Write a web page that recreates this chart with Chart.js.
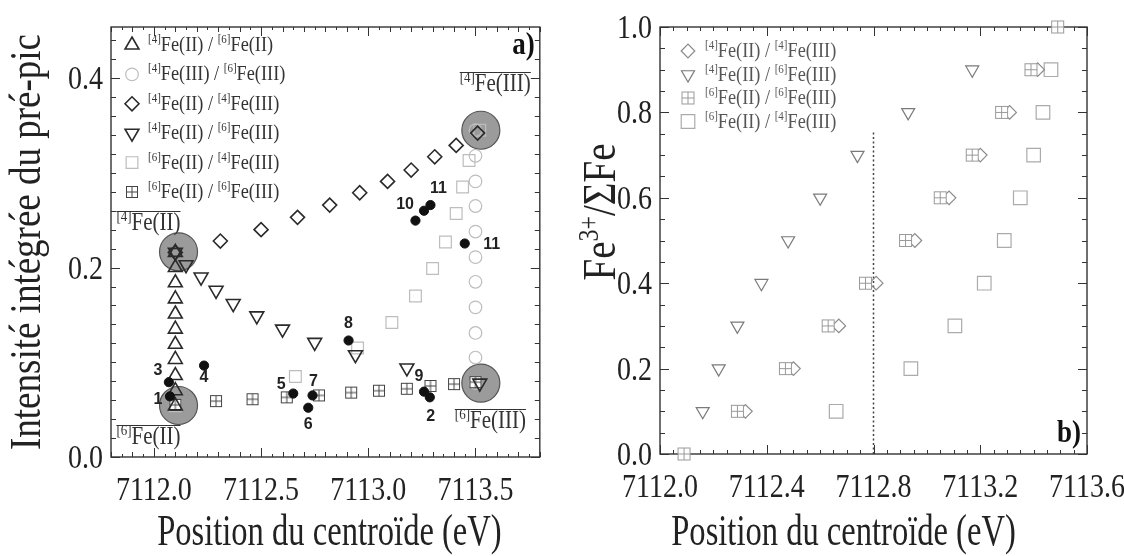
<!DOCTYPE html>
<html>
<head>
<meta charset="utf-8">
<script src="https://cdn.jsdelivr.net/npm/chart.js@4.4.0/dist/chart.umd.min.js"></script>
<style>
  html, body { margin: 0; padding: 0; background: #fff; }
  #wrap { position: relative; width: 1124px; height: 556px; overflow: hidden; background: #fff; }
  #chartA { position: absolute; left: 0; top: 0; }
  #chartB { position: absolute; left: 560px; top: 0; }
</style>
</head>
<body>
<div id="wrap">
  <canvas id="chartA" width="560" height="556"></canvas>
  <canvas id="chartB" width="564" height="556"></canvas>
</div>
<script>
// ---------- a) intensité intégrée vs position du centroïde ----------
const triUpX  = [7112.10, 7112.10, 7112.10, 7112.10, 7112.10, 7112.10, 7112.10, 7112.10, 7112.10, 7112.10, 7112.10];
const triUpY  = [0.054, 0.070, 0.086, 0.103, 0.119, 0.135, 0.151, 0.167, 0.184, 0.200, 0.216];
const openCX  = [7113.50, 7113.50, 7113.50, 7113.50, 7113.50, 7113.50, 7113.50, 7113.50, 7113.50, 7113.50, 7113.50];
const openCY  = [0.078, 0.105, 0.131, 0.158, 0.185, 0.211, 0.238, 0.265, 0.291, 0.318, 0.345];
const diaAX   = [7112.10, 7112.31, 7112.50, 7112.67, 7112.82, 7112.96, 7113.09, 7113.20, 7113.31, 7113.41, 7113.51];
const diaAY   = [0.216, 0.228, 0.240, 0.253, 0.266, 0.279, 0.291, 0.303, 0.317, 0.329, 0.342];
const invAX   = [7112.10, 7112.15, 7112.22, 7112.29, 7112.37, 7112.48, 7112.60, 7112.75, 7112.94, 7113.18, 7113.52];
const invAY   = [0.216, 0.203, 0.190, 0.176, 0.162, 0.149, 0.135, 0.121, 0.108, 0.094, 0.078];
const sqAX    = [7112.10, 7112.66, 7112.95, 7113.11, 7113.22, 7113.30, 7113.36, 7113.41, 7113.44, 7113.47, 7113.52];
const sqAY    = [0.054, 0.085, 0.115, 0.142, 0.170, 0.199, 0.227, 0.257, 0.285, 0.313, 0.345];
const gridAX  = [7112.10, 7112.29, 7112.46, 7112.62, 7112.77, 7112.92, 7113.05, 7113.18, 7113.29, 7113.40, 7113.50];
const gridAY  = [0.055, 0.059, 0.061, 0.063, 0.065, 0.068, 0.070, 0.072, 0.075, 0.077, 0.079];
// pôles purs (grands disques gris)
const endX    = [7112.115, 7112.115, 7113.525, 7113.525];
const endY    = [0.2166, 0.0544, 0.345, 0.078];
const endText = ['[4]Fe(II)', '[6]Fe(II)', '[4]Fe(III)', '[6]Fe(III)'];
// échantillons (points noirs)
const sampleX     = [7112.075, 7113.287, 7112.07, 7112.234, 7112.65, 7112.72, 7112.74, 7112.908, 7113.26, 7113.22, 7113.26, 7113.29, 7113.45];
const sampleY     = [0.064, 0.063, 0.079, 0.0965, 0.067, 0.052, 0.065, 0.123, 0.069, 0.2496, 0.260, 0.266, 0.2254];
const sampleLabel = ['1', '2', '3', '4', '5', '6', '7', '8', '9', '', '10', '11', '11'];
const xTicksA = [7112.0, 7112.5, 7113.0, 7113.5];
const yTicksA = [0.0, 0.2, 0.4];
const legendA = ['[4]Fe(II) / [6]Fe(II)', '[4]Fe(III) / [6]Fe(III)', '[4]Fe(II) / [4]Fe(III)',
                 '[4]Fe(II) / [6]Fe(III)', '[6]Fe(II) / [4]Fe(III)', '[6]Fe(II) / [6]Fe(III)'];

// ---------- b) Fe3+/ΣFe vs position du centroïde ----------
const invBX  = [7112.16, 7112.22, 7112.29, 7112.38, 7112.48, 7112.60, 7112.74, 7112.93, 7113.17];
const invBY  = [0.1, 0.2, 0.3, 0.4, 0.5, 0.6, 0.7, 0.8, 0.9];
const gridBX = [7112.09, 7112.29, 7112.47, 7112.63, 7112.77, 7112.92, 7113.05, 7113.17, 7113.28, 7113.39, 7113.49];
const gridBY = [0.0, 0.1, 0.2, 0.3, 0.4, 0.5, 0.6, 0.7, 0.8, 0.9, 1.0];
const diaBX  = [7112.32, 7112.50, 7112.67, 7112.81, 7112.955, 7113.083, 7113.20, 7113.31, 7113.415];
const diaBY  = [0.1, 0.2, 0.3, 0.4, 0.5, 0.6, 0.7, 0.8, 0.9];
const sqBX   = [7112.66, 7112.94, 7113.105, 7113.215, 7113.29, 7113.35, 7113.40, 7113.435, 7113.465];
const sqBY   = [0.1, 0.2, 0.3, 0.4, 0.5, 0.6, 0.7, 0.8, 0.9];
const dividerX = 7112.8;
const dividerTop = 0.755;
const xTicksB = [7112.0, 7112.4, 7112.8, 7113.2, 7113.6];
const yTicksB = [0.0, 0.2, 0.4, 0.6, 0.8, 1.0];
const legendB = ['[4]Fe(II) / [4]Fe(III)', '[4]Fe(II) / [6]Fe(III)', '[6]Fe(II) / [6]Fe(III)', '[6]Fe(II) / [4]Fe(III)'];

// ---------- styles ----------
const SERIF = '"Liberation Serif", "Times New Roman", serif';
const SANS = '"Liberation Sans", Arial, sans-serif';
const STRETCH = 1.2;          // police un peu plus haute que Times
const AXIS = '#333';
const TEXT = '#222';

function pts(xs, ys) { return xs.map((x, i) => ({ x: x, y: ys[i] })); }

function gridMark(size, color, lw) {
  const c = document.createElement('canvas');
  c.width = size + 2; c.height = size + 2;
  const g = c.getContext('2d');
  g.fillStyle = '#fff';
  g.fillRect(1, 1, size, size);
  g.strokeStyle = color; g.lineWidth = lw;
  g.strokeRect(1.5, 1.5, size - 1, size - 1);
  g.beginPath();
  g.moveTo(1 + size / 2, 1); g.lineTo(1 + size / 2, 1 + size);
  g.moveTo(1, 1 + size / 2); g.lineTo(1 + size, 1 + size / 2);
  g.stroke();
  return c;
}

function mk(xs, ys, s) {
  return {
    data: pts(xs, ys),
    pointStyle: s.style, pointRadius: s.r, pointHoverRadius: s.r,
    pointRotation: s.rot || 0,
    pointBackgroundColor: s.fill, pointBorderColor: s.stroke,
    pointBorderWidth: s.w, pointHoverBorderWidth: s.w,
    showLine: false, clip: false, order: s.order || 0
  };
}

// split "[4]Fe(II)" into [[ '[4]', true ], [ 'Fe(II)', false ]]
function parts(str) {
  return str.split(/(\[\d\])/).filter(t => t).map(t => [t, /^\[\d\]$/.test(t)]);
}

function drawRich(ctx, ps, x, y, size, align, color, angle, xs) {
  const sup = Math.round(size * 0.62);
  const k = xs || 1;
  let w = 0;
  const ws = ps.map(([t, s]) => { ctx.font = (s ? sup : size) + 'px ' + SERIF; const m = ctx.measureText(t).width; w += m; return m; });
  ctx.save();
  ctx.translate(x, y);
  if (angle) ctx.rotate(angle);
  ctx.scale(k, STRETCH);
  ctx.fillStyle = color; ctx.textAlign = 'left'; ctx.textBaseline = 'alphabetic';
  let cx = align === 'center' ? -w / 2 : align === 'right' ? -w : 0;
  ps.forEach(([t, s], i) => {
    ctx.font = (s ? sup : size) + 'px ' + SERIF;
    ctx.fillText(t, cx, s ? -size * 0.36 : 0);
    cx += ws[i];
  });
  ctx.restore();
  return w * k;
}

function plainText(ctx, text, x, y, font, align, color) {
  ctx.save();
  ctx.translate(x, y);
  ctx.scale(1, STRETCH);
  ctx.font = font; ctx.fillStyle = color; ctx.textAlign = align; ctx.textBaseline = 'alphabetic';
  ctx.fillText(text, 0, 0);
  ctx.restore();
}

function tickValues(min, max, step) {
  const out = [];
  const n0 = Math.ceil(min / step - 1e-6), n1 = Math.floor(max / step + 1e-6);
  for (let n = n0; n <= n1; n++) out.push(+(n * step).toFixed(6));
  return out;
}

function drawFrame(chart, p) {
  const ctx = chart.ctx, a = chart.chartArea;
  const sx = chart.scales.x, sy = chart.scales.y;
  ctx.save();
  ctx.strokeStyle = AXIS;
  ctx.lineWidth = 1.4;
  ctx.strokeRect(a.left, a.top, a.right - a.left, a.bottom - a.top);
  ctx.lineWidth = 1;
  ctx.beginPath();
  p.xSteps.forEach(([step, len]) => {
    tickValues(sx.min, sx.max, step).forEach(v => {
      const px = Math.round(sx.getPixelForValue(v)) + 0.5;
      ctx.moveTo(px, a.bottom); ctx.lineTo(px, a.bottom - len);
      ctx.moveTo(px, a.top); ctx.lineTo(px, a.top + len);
    });
  });
  p.ySteps.forEach(([step, len]) => {
    tickValues(sy.min, sy.max, step).forEach(v => {
      const py = Math.round(sy.getPixelForValue(v)) + 0.5;
      ctx.moveTo(a.left, py); ctx.lineTo(a.left + len, py);
      ctx.moveTo(a.right, py); ctx.lineTo(a.right - len, py);
    });
  });
  ctx.stroke();
  ctx.restore();
}

function drawSymbol(ctx, ds, x, y) {
  ctx.save();
  ctx.fillStyle = ds.pointBackgroundColor;
  ctx.strokeStyle = ds.pointBorderColor;
  ctx.lineWidth = ds.pointBorderWidth;
  Chart.helpers.drawPoint(ctx, {
    pointStyle: ds.pointStyle, radius: ds.pointRadius,
    rotation: ds.pointRotation, borderWidth: ds.pointBorderWidth
  }, x, y);
  ctx.restore();
}

function drawTexts(chart, p) {
  const ctx = chart.ctx, a = chart.chartArea;
  const sx = chart.scales.x, sy = chart.scales.y;
  const tickFont = '28px ' + SERIF;
  p.xLabels.forEach(v => plainText(ctx, v.toFixed(1), sx.getPixelForValue(v), a.bottom + 43, tickFont, 'center', TEXT));
  p.yLabels.forEach(v => plainText(ctx, v.toFixed(1), a.left - 8, sy.getPixelForValue(v) + 11, tickFont, 'right', TEXT));
  // titres
  drawRich(ctx, [['Position du centroïde (eV)', false]], (a.left + a.right) / 2 + p.xTitleShift, 545, 37, 'center', TEXT, 0, 0.88);
  drawRich(ctx, p.yTitle, p.yTitlePos[0], p.yTitlePos[1], p.yTitleSize, 'center', TEXT, -Math.PI / 2);
  plainText(ctx, p.tag, p.tagPos(a)[0], p.tagPos(a)[1], 'bold 27px ' + SERIF, 'right', '#111');
  // légende
  const L = p.legend;
  L.items.forEach((txt, i) => {
    const y = L.y0 + i * L.dy;
    drawSymbol(ctx, chart.data.datasets[L.ds[i]], L.symX, y);
    drawRich(ctx, parts(txt), L.textX, y + 6, L.size, 'left', L.color);
  });
  if (p.extra) p.extra(chart);
}

// ---------- panneau a ----------
const gridDark = gridMark(12, '#444', 1);
const dsA = [
  mk(sampleX, sampleY, { style: 'circle', r: 4.6, fill: '#111', stroke: '#111', w: 1, order: 0 }),
  mk(triUpX, triUpY, { style: 'triangle', r: 8, fill: 'rgba(0,0,0,0)', stroke: '#2a2a2a', w: 1.6, order: 1 }),
  mk(openCX, openCY, { style: 'circle', r: 6.3, fill: 'rgba(0,0,0,0)', stroke: '#bdbdbd', w: 1.2, order: 2 }),
  mk(diaAX, diaAY, { style: 'rectRot', r: 7, fill: 'rgba(0,0,0,0)', stroke: '#2a2a2a', w: 1.6, order: 1 }),
  mk(invAX, invAY, { style: 'triangle', r: 8, rot: 180, fill: 'rgba(0,0,0,0)', stroke: '#2a2a2a', w: 1.6, order: 1 }),
  mk(sqAX, sqAY, { style: 'rect', r: 8.3, fill: 'rgba(0,0,0,0)', stroke: '#bdbdbd', w: 1.2, order: 2 }),
  mk(gridAX, gridAY, { style: gridDark, r: 6, fill: '#fff', stroke: '#444', w: 1, order: 1 }),
  mk(endX, endY, { style: 'circle', r: 19, fill: '#9b9b9b', stroke: '#555', w: 1.2, order: 9 })
];
// décalages des étiquettes (px)
const sampleOffset = [[-12, 3], [1, 19], [-11, -12], [0, 12], [-12, -9], [0, 17], [1, -14], [0, -17], [-5, -15], [0, 0], [-19, -6], [8, -16], [27, 1]];
const endOffset = [[2, -22, 'right'], [2, 39, 'right'], [50, -39, 'right'], [-26, 45, 'left']];

const panelA = {
  xSteps: [[0.05, 3], [0.1, 5], [0.5, 9]],
  ySteps: [[0.02, 5], [0.2, 9]],
  xLabels: xTicksA, yLabels: yTicksA,
  xTitleShift: 4,
  yTitle: [['Intensité intégrée du pré-pic', false]],
  yTitlePos: [40, 242], yTitleSize: 37,
  tag: 'a)', tagPos: a => [a.right - 5, a.top + 27],
  legend: { items: legendA, ds: [1, 2, 3, 4, 5, 6], symX: 132, textX: 148, y0: 45, dy: 29.4, size: 18.3, color: '#333' },
  extra(chart) {
    const ctx = chart.ctx;
    const dots = chart.getDatasetMeta(0).data;
    ctx.save();
    ctx.font = 'bold 16px ' + SANS; ctx.fillStyle = '#222';
    ctx.textAlign = 'center'; ctx.textBaseline = 'middle';
    dots.forEach((pt, i) => {
      if (sampleLabel[i]) ctx.fillText(sampleLabel[i], pt.x + sampleOffset[i][0], pt.y + sampleOffset[i][1]);
    });
    ctx.restore();
    const ends = chart.getDatasetMeta(7).data;
    ends.forEach((pt, i) => {
      const [dx, dy, al] = endOffset[i];
      const x = pt.x + dx, y = pt.y + dy;
      const w = drawRich(ctx, parts(endText[i]), x, y, 21, al, '#333');
      const x0 = al === 'right' ? x - w : x;
      ctx.save();
      ctx.strokeStyle = '#333'; ctx.lineWidth = 1;
      ctx.beginPath(); ctx.moveTo(x0, Math.round(y - 19) + 0.5); ctx.lineTo(x0 + w, Math.round(y - 19) + 0.5); ctx.stroke();
      ctx.restore();
    });
  }
};

// ---------- panneau b ----------
const gridLight = gridMark(13, '#9a9a9a', 1);
const dsB = [
  mk(gridBX, gridBY, { style: gridLight, r: 6.5, fill: '#fff', stroke: '#9a9a9a', w: 1, order: 0 }),
  mk(diaBX, diaBY, { style: 'rectRot', r: 6.8, fill: 'rgba(0,0,0,0)', stroke: '#8a8a8a', w: 1.2, order: 1 }),
  mk(invBX, invBY, { style: 'triangle', r: 7.5, rot: 180, fill: 'rgba(0,0,0,0)', stroke: '#7a7a7a', w: 1.2, order: 1 }),
  mk(sqBX, sqBY, { style: 'rect', r: 9.6, fill: 'rgba(0,0,0,0)', stroke: '#ababab', w: 1.2, order: 1 }),
  {
    data: pts([dividerX, dividerX], [0, dividerTop]), showLine: true,
    borderColor: '#444', borderWidth: 1.5, borderDash: [2, 2.5],
    pointRadius: 0, pointHoverRadius: 0, order: 5
  }
];
const panelB = {
  xSteps: [[0.05, 4], [0.4, 9]],
  ySteps: [[0.05, 5], [0.2, 9]],
  xLabels: xTicksB, yLabels: yTicksB,
  xTitleShift: -30,
  yTitle: [['Fe', false], ['3+', true], ['/ΣFe', false]],
  yTitlePos: [55, 212], yTitleSize: 39,
  tag: 'b)', tagPos: a => [a.right - 6, a.bottom - 12],
  legend: { items: legendB, ds: [1, 2, 0, 3], symX: 128, textX: 145, y0: 51, dy: 23.5, size: 18.3, color: '#555' }
};

function makeChart(id, datasets, xr, yr, pad, yW, xH, panel) {
  return new Chart(document.getElementById(id), {
    type: 'scatter',
    data: { datasets: datasets },
    options: {
      responsive: false, animation: false, devicePixelRatio: 1, events: [],
      layout: { padding: pad },
      plugins: { legend: { display: false }, tooltip: { enabled: false } },
      scales: {
        x: { type: 'linear', min: xr[0], max: xr[1], grid: { display: false, drawTicks: false },
             border: { display: false }, ticks: { display: false }, afterFit(s) { s.height = xH; } },
        y: { type: 'linear', min: yr[0], max: yr[1], grid: { display: false, drawTicks: false },
             border: { display: false }, ticks: { display: false }, afterFit(s) { s.width = yW; } }
      }
    },
    plugins: [{
      id: 'panel_' + id,
      beforeDatasetsDraw(chart) { drawFrame(chart, panel); },
      afterDatasetsDraw(chart) { drawTexts(chart, panel); }
    }]
  });
}

makeChart('chartA', dsA, [7111.8, 7113.8], [0, 0.454], { left: 0, right: 20, top: 27, bottom: 0 }, 111, 99, panelA);
makeChart('chartB', dsB, [7112.0, 7113.6], [0, 1.0], { left: 0, right: 37, top: 27, bottom: 0 }, 100, 102, panelB);
</script>
</body>
</html>
